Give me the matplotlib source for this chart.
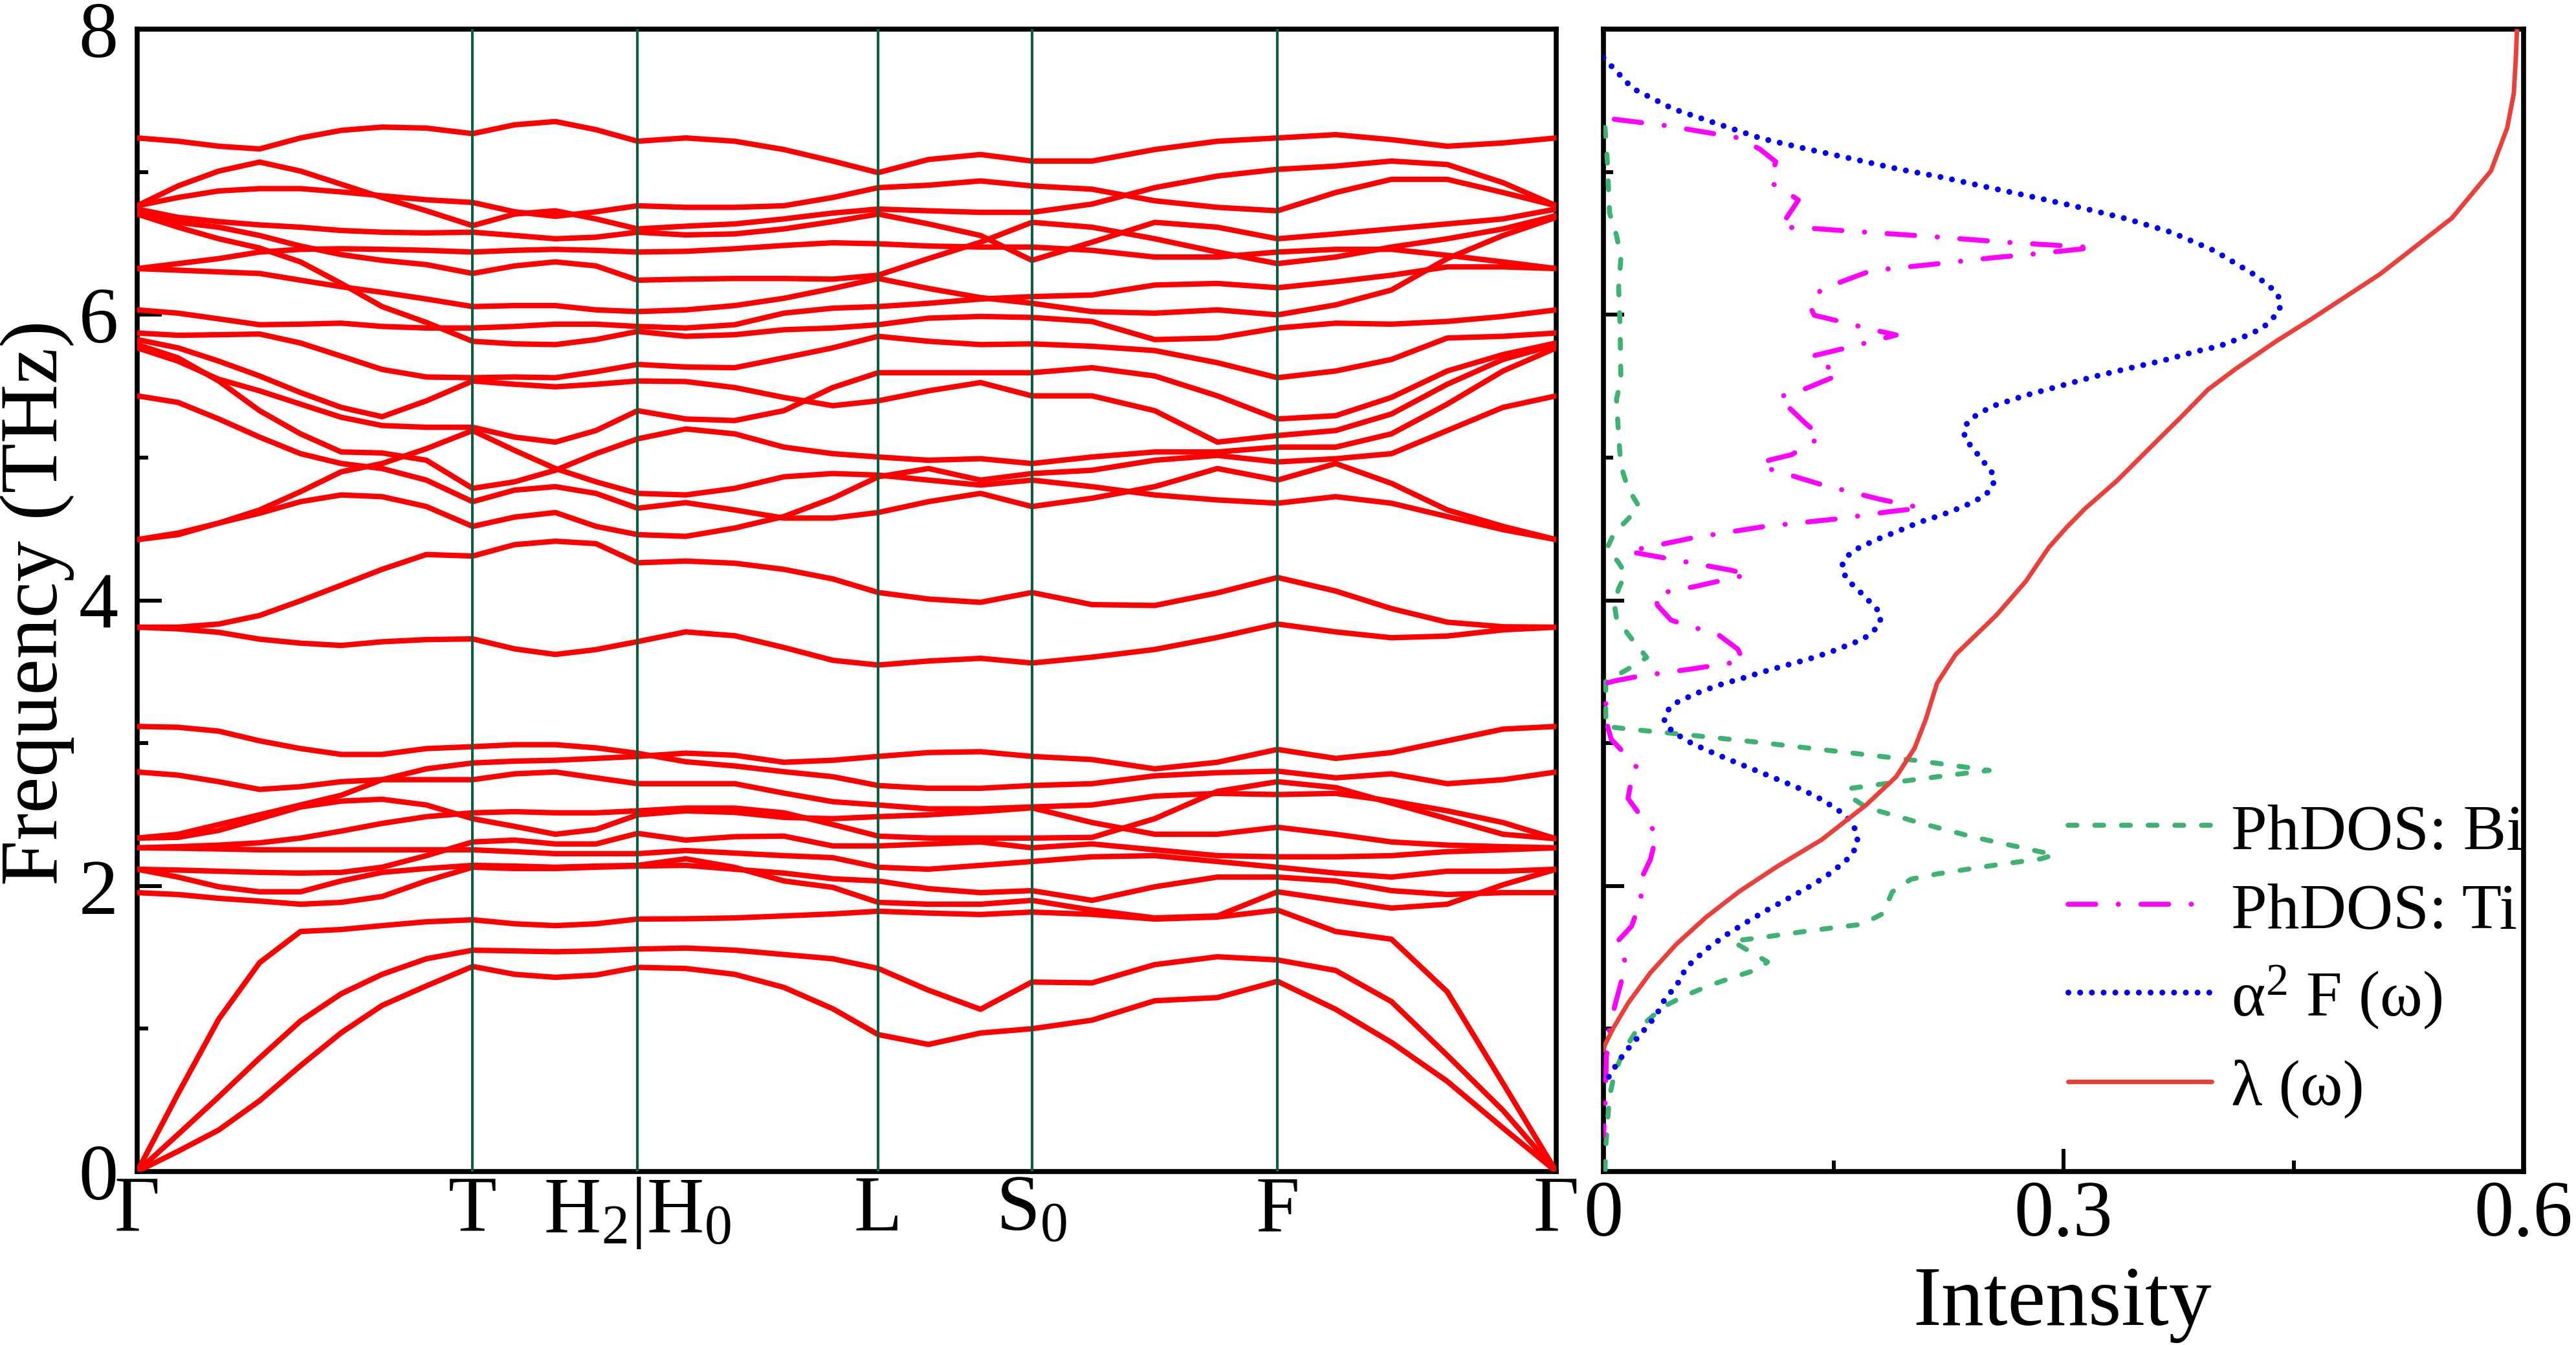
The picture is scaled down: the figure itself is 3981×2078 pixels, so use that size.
import matplotlib
matplotlib.use("Agg")
import matplotlib.pyplot as plt
from matplotlib.ticker import MultipleLocator, FixedLocator

# ---------------- data ----------------
# path coordinate (fraction of the Γ-T-H|H0-L-S0-F-Γ path) at which bands were read
kpath = [0, 0.0288, 0.0575, 0.0863, 0.1151, 0.1438, 0.1726, 0.2038, 0.2364,
         0.2660, 0.2947, 0.3233, 0.3527,
         0.3866, 0.4211, 0.4557, 0.4902, 0.5222, 0.5576, 0.5943, 0.6305,
         0.6729, 0.7171, 0.7612, 0.8036, 0.8446, 0.8839, 0.9232, 0.9625, 1.0]

hs_pos = [0.0, 0.2364, 0.3527, 0.5222, 0.6305, 0.8036, 1.0]
hs_labels = ["Γ", "T", r"H$_2$|H$_0$", "L", r"S$_0$", "F", "Γ"]

# acoustic branches (THz)
ta1 = [0, 0.142, 0.291, 0.496, 0.741, 0.972, 1.163, 1.30, 1.436, 1.381, 1.36, 1.376, 1.43,
       1.422, 1.381, 1.29, 1.14, 0.959, 0.89, 0.97, 1.0,
       1.06, 1.196, 1.218, 1.332, 1.136, 0.904, 0.632, 0.305, 0]
ta2 = [0, 0.26, 0.523, 0.795, 1.054, 1.245, 1.381, 1.49, 1.55, 1.545, 1.539, 1.545, 1.558,
       1.565, 1.55, 1.52, 1.49, 1.422, 1.27, 1.136, 1.327,
       1.321, 1.449, 1.504, 1.482, 1.408, 1.19, 0.814, 0.428, 0]
la = [0, 0.545, 1.068, 1.463, 1.681, 1.695, 1.722, 1.749, 1.763, 1.735, 1.722, 1.735, 1.768,
      1.77, 1.776, 1.79, 1.804, 1.823, 1.81, 1.80, 1.817,
      1.801, 1.768, 1.782, 1.831, 1.681, 1.627, 1.259, 0.618, 0]

# low optical branches (THz)
low1 = [2.335, 2.362, 2.430, 2.498, 2.567, 2.635, 2.744, 2.820, 2.861, 2.874, 2.880, 2.893, 2.907,
        2.93, 2.915, 2.866, 2.88, 2.907, 2.934, 2.94, 2.907,
        2.885, 2.82, 2.866, 2.956, 2.893, 2.934, 3.016, 3.098, 3.117]
low2 = [3.117, 3.111, 3.084, 3.016, 2.962, 2.921, 2.921, 2.962, 2.975, 2.989, 2.989, 2.967, 2.929,
        2.87, 2.84, 2.80, 2.765, 2.703, 2.684, 2.684, 2.703,
        2.716, 2.771, 2.793, 2.804, 2.757, 2.785, 2.716, 2.744, 2.798]
low3 = [2.798, 2.776, 2.730, 2.676, 2.695, 2.730, 2.744, 2.744, 2.744, 2.785, 2.798, 2.757, 2.716,
        2.716, 2.716, 2.65, 2.59, 2.567, 2.54, 2.54, 2.553,
        2.567, 2.629, 2.648, 2.64, 2.648, 2.594, 2.526, 2.444, 2.33]
low4 = [2.267, 2.275, 2.286, 2.302, 2.335, 2.384, 2.438, 2.485, 2.512, 2.520, 2.512, 2.512, 2.526,
        2.545, 2.545, 2.512, 2.43, 2.349, 2.335, 2.335, 2.335,
        2.34, 2.471, 2.662, 2.73, 2.689, 2.58, 2.471, 2.362, 2.33]
low5 = [2.335, 2.340, 2.389, 2.471, 2.553, 2.594, 2.607, 2.567, 2.471, 2.417, 2.362, 2.395, 2.498,
        2.526, 2.515, 2.48, 2.471, 2.485, 2.498, 2.52, 2.547,
        2.444, 2.362, 2.362, 2.411, 2.362, 2.308, 2.286, 2.275, 2.267]
low6 = [2.117, 2.111, 2.103, 2.095, 2.090, 2.095, 2.131, 2.212, 2.308, 2.321, 2.294, 2.294, 2.368,
        2.321, 2.345, 2.349, 2.28, 2.28, 2.294, 2.308, 2.267,
        2.294, 2.253, 2.212, 2.204, 2.204, 2.212, 2.24, 2.253, 2.267]
low7 = [2.267, 2.264, 2.259, 2.253, 2.253, 2.253, 2.253, 2.253, 2.253, 2.240, 2.226, 2.226, 2.226,
        2.248, 2.23, 2.212, 2.198, 2.131, 2.117, 2.144, 2.171,
        2.204, 2.212, 2.171, 2.131, 2.09, 2.062, 2.103, 2.103, 2.117]
low8 = [2.117, 2.062, 1.994, 1.959, 1.959, 2.035, 2.095, 2.122, 2.144, 2.139, 2.131, 2.139, 2.144,
        2.19, 2.13, 2.035, 1.99, 1.885, 1.872, 1.872, 1.899,
        1.831, 1.776, 1.79, 1.959, 1.899, 1.845, 1.872, 2.008, 2.117]
low9 = [1.953, 1.940, 1.913, 1.894, 1.872, 1.885, 1.926, 2.035, 2.131, 2.122, 2.122, 2.131, 2.139,
        2.144, 2.117, 2.09, 2.05, 2.035, 1.981, 1.953, 1.967,
        1.899, 1.994, 2.062, 2.062, 2.035, 1.967, 1.94, 1.953, 1.953]

# middle pair around 4 THz
mid_a = [3.812, 3.812, 3.834, 3.894, 3.997, 4.106, 4.217, 4.321, 4.31, 4.39, 4.414, 4.397, 4.263,
         4.275, 4.26, 4.217, 4.15, 4.055, 4.009, 3.986, 4.055,
         3.97, 3.964, 4.052, 4.16, 4.065, 3.942, 3.847, 3.815, 3.812]
mid_b = [3.812, 3.80, 3.776, 3.728, 3.70, 3.684, 3.71, 3.725, 3.73, 3.66, 3.621, 3.655, 3.711,
         3.779, 3.752, 3.67, 3.58, 3.547, 3.575, 3.594, 3.561,
         3.602, 3.656, 3.74, 3.834, 3.779, 3.738, 3.75, 3.793, 3.812]

# high optical branches (THz)
up01 = [7.238, 7.215, 7.18, 7.161, 7.238, 7.291, 7.314, 7.307, 7.268, 7.33, 7.353, 7.296, 7.215,
        7.238, 7.215, 7.157, 7.076, 6.995, 7.087, 7.122, 7.076,
        7.076, 7.157, 7.215, 7.238, 7.261, 7.226, 7.18, 7.203, 7.238]
up02 = [6.763, 6.821, 6.867, 6.883, 6.883, 6.86, 6.833, 6.805, 6.786, 6.721, 6.689, 6.721, 6.763,
        6.752, 6.752, 6.763, 6.821, 6.89, 6.907, 6.937, 6.902,
        6.879, 6.798, 6.752, 6.728, 6.856, 6.948, 6.948, 6.856, 6.763]
up03 = [6.763, 6.902, 7.006, 7.069, 7.006, 6.914, 6.821, 6.728, 6.624, 6.705, 6.728, 6.671, 6.601,
        6.62, 6.636, 6.671, 6.712, 6.74, 6.728, 6.717, 6.717,
        6.775, 6.89, 6.971, 7.018, 7.041, 7.076, 7.052, 6.925, 6.763]
up04 = [6.74, 6.682, 6.652, 6.629, 6.613, 6.59, 6.578, 6.573, 6.578, 6.555, 6.532, 6.543, 6.578,
        6.559, 6.566, 6.601, 6.652, 6.705, 6.636, 6.555, 6.381,
        6.508, 6.647, 6.613, 6.532, 6.566, 6.601, 6.636, 6.671, 6.74]
up05 = [6.323, 6.358, 6.393, 6.439, 6.458, 6.462, 6.458, 6.451, 6.439, 6.451, 6.458, 6.451, 6.439,
        6.444, 6.462, 6.485, 6.504, 6.497, 6.481, 6.474, 6.474,
        6.451, 6.404, 6.404, 6.439, 6.458, 6.458, 6.416, 6.37, 6.323]
up06 = [6.717, 6.647, 6.613, 6.555, 6.481, 6.421, 6.381, 6.351, 6.289, 6.342, 6.37, 6.342, 6.242,
        6.249, 6.254, 6.254, 6.249, 6.277, 6.393, 6.508, 6.647,
        6.613, 6.532, 6.439, 6.358, 6.404, 6.474, 6.532, 6.601, 6.694]
up07 = [6.323, 6.312, 6.30, 6.289, 6.242, 6.196, 6.157, 6.11, 6.057, 6.064, 6.064, 6.034, 6.022,
        6.034, 6.064, 6.115, 6.184, 6.254, 6.184, 6.12, 6.08,
        6.022, 6.011, 6.034, 5.999, 6.069, 6.173, 6.393, 6.555, 6.682]
up08 = [6.034, 6.011, 5.971, 5.93, 5.934, 5.941, 5.918, 5.907, 5.907, 5.918, 5.934, 5.934, 5.918,
        5.907, 5.93, 6.011, 6.046, 6.057, 6.08, 6.11, 6.127,
        6.138, 6.208, 6.219, 6.189, 6.231, 6.277, 6.335, 6.335, 6.323]
up09 = [6.705, 6.613, 6.532, 6.467, 6.37, 6.219, 6.057, 5.946, 5.814, 5.796, 5.791, 5.826, 5.883,
        5.849, 5.86, 5.895, 5.907, 5.93, 5.976, 5.988, 5.981,
        5.953, 5.826, 5.837, 5.907, 5.941, 5.934, 5.953, 5.988, 6.034]
up10 = [5.872, 5.856, 5.86, 5.865, 5.802, 5.71, 5.617, 5.564, 5.559, 5.564, 5.559, 5.601, 5.652,
        5.634, 5.629, 5.698, 5.768, 5.849, 5.814, 5.791, 5.796,
        5.779, 5.749, 5.664, 5.559, 5.606, 5.687, 5.837, 5.849, 5.872]
up11 = [5.826, 5.768, 5.675, 5.571, 5.455, 5.351, 5.286, 5.397, 5.536, 5.513, 5.495, 5.513, 5.536,
        5.532, 5.49, 5.421, 5.363, 5.397, 5.467, 5.525, 5.432,
        5.432, 5.328, 5.108, 5.154, 5.189, 5.305, 5.513, 5.687, 5.791]
up12 = [5.768, 5.675, 5.548, 5.467, 5.374, 5.282, 5.224, 5.212, 5.212, 5.143, 5.108, 5.189, 5.328,
        5.27, 5.259, 5.328, 5.49, 5.594, 5.594, 5.594, 5.594,
        5.629, 5.571, 5.432, 5.27, 5.293, 5.421, 5.606, 5.721, 5.802]
up13 = [5.791, 5.698, 5.536, 5.328, 5.166, 5.039, 5.032, 4.981, 4.784, 4.83, 4.911, 5.027, 5.131,
        5.2, 5.166, 5.073, 5.027, 5.004, 4.981, 4.992, 4.958,
        5.004, 5.039, 5.039, 5.073, 5.073, 5.166, 5.374, 5.606, 5.768]
up14 = [4.425, 4.46, 4.541, 4.633, 4.761, 4.90, 4.958, 5.062, 5.189, 5.05, 4.923, 4.83, 4.749,
        4.738, 4.784, 4.865, 4.888, 4.877, 4.842, 4.807, 4.842,
        4.796, 4.738, 4.703, 4.68, 4.726, 4.68, 4.587, 4.495, 4.425]
up15 = [5.432, 5.386, 5.27, 5.143, 5.027, 4.958, 4.923, 4.842, 4.691, 4.772, 4.796, 4.749, 4.645,
        4.684, 4.633, 4.576, 4.576, 4.615, 4.691, 4.749, 4.657,
        4.715, 4.796, 4.923, 4.842, 4.958, 4.819, 4.633, 4.518, 4.425]
up16 = [4.425, 4.471, 4.541, 4.61, 4.691, 4.738, 4.726, 4.657, 4.518, 4.583, 4.615, 4.518, 4.46,
        4.448, 4.506, 4.587, 4.715, 4.865, 4.923, 4.842, 4.888,
        4.911, 4.981, 5.015, 4.969, 4.992, 5.027, 5.189, 5.351, 5.432]

# ---- right panel: intensity vs frequency ----
bi_int = [0.001, 0.0025, 0.004, 0.0085, 0.0114, 0.0099, 0.0108, 0.0114, 0.0085, 0.0099, 0.0114,
          0.0159, 0.0233, 0.0144, 0.007, 0.0025, 0.0099, 0.0144, 0.0099, 0.007, 0.0085, 0.0174,
          0.0282, 0.016, 0.0015, 0.0015, 0.0184, 0.0524, 0.1034, 0.1544, 0.2053, 0.2515, 0.232,
          0.1956, 0.1616, 0.159, 0.1714, 0.2078, 0.2417, 0.2939, 0.2854, 0.2515, 0.2175, 0.2005,
          0.1883, 0.1823, 0.1689, 0.135, 0.101, 0.084, 0.107, 0.101, 0.0864, 0.0694, 0.0524,
          0.039, 0.0282, 0.0209, 0.0136, 0.0075, 0.0039, 0.0015, 0.001]
bi_freq = [7.311, 7.077, 6.712, 6.556, 6.40, 6.191, 5.931, 5.54, 5.41, 5.15, 4.941,
           4.785, 4.655, 4.551, 4.473, 4.368, 4.264, 4.186, 4.082, 3.978, 3.874, 3.744,
           3.6, 3.519, 3.431, 3.117, 3.096, 3.061, 3.003, 2.94, 2.877, 2.809, 2.784,
           2.734, 2.684, 2.638, 2.55, 2.437, 2.341, 2.218, 2.19, 2.14, 2.084, 2.047,
           1.958, 1.807, 1.732, 1.687, 1.636, 1.613, 1.468, 1.417, 1.367, 1.304, 1.228,
           1.153, 1.052, 0.977, 0.851, 0.70, 0.523, 0.171, 0.0]

ti_int = [0.007, 0.041, 0.0886, 0.1019, 0.1123, 0.1087, 0.1153, 0.1271, 0.1153, 0.1316, 0.1657,
          0.2132, 0.2606, 0.32, 0.2814, 0.2547, 0.2102, 0.1746, 0.142, 0.1345, 0.1375, 0.158,
          0.1716, 0.1909, 0.163, 0.136, 0.1538, 0.1271, 0.1138, 0.1316, 0.142, 0.1227, 0.1078,
          0.1019, 0.142, 0.1805, 0.2072, 0.1865, 0.1538, 0.1049, 0.0589, 0.0159, 0.0366, 0.0826,
          0.0945, 0.0589, 0.0337, 0.0352, 0.0441, 0.0752, 0.0876, 0.0913, 0.0573, 0.0233, 0.0087,
          0.0015, 0.0015, 0.005, 0.0148, 0.022, 0.0184, 0.016, 0.0245, 0.0354, 0.0342, 0.0306,
          0.0245, 0.0245, 0.0184, 0.0087, 0.0148, 0.0075, 0.0039, 0.0019, 0.001, 0.0]
ti_freq = [7.369, 7.324, 7.238, 7.16, 7.072, 6.926, 6.889, 6.803, 6.613, 6.608, 6.582,
           6.548, 6.509, 6.47, 6.426, 6.40, 6.348, 6.309, 6.178, 6.061, 5.996, 5.944,
           5.905, 5.858, 5.78, 5.71, 5.58, 5.462, 5.423, 5.241, 5.145, 5.02, 4.981,
           4.941, 4.811, 4.707, 4.647, 4.621, 4.572, 4.517, 4.439, 4.343, 4.303, 4.212,
           4.181, 4.095, 4.043, 3.965, 3.861, 3.757, 3.658, 3.575, 3.519, 3.469, 3.439,
           3.419, 3.167, 3.028, 2.915, 2.827, 2.751, 2.613, 2.487, 2.361, 2.336, 2.185,
           2.047, 1.908, 1.719, 1.606, 1.455, 1.165, 1.002, 0.8, 0.423, 0.25]

a2f_int = [0.0, 0.019, 0.0455, 0.0743, 0.1034, 0.133, 0.163, 0.1924, 0.222, 0.2517, 0.2814,
           0.311, 0.3407, 0.3704, 0.3986, 0.4253, 0.4386, 0.4416, 0.4407, 0.4297, 0.4164, 0.4015,
           0.3867, 0.3645, 0.3422, 0.32, 0.2977, 0.2755, 0.2532, 0.2399, 0.2354, 0.2354, 0.2458,
           0.2547, 0.2541, 0.2488, 0.2354, 0.2206, 0.2057, 0.1924, 0.1782, 0.1642, 0.1583, 0.1553,
           0.1583, 0.1701, 0.1805, 0.1805, 0.176, 0.169, 0.1616, 0.148, 0.1333, 0.1187, 0.104,
           0.0896, 0.075, 0.0604, 0.0464, 0.0408, 0.0396, 0.0451, 0.058, 0.0723, 0.0864, 0.1005,
           0.1148, 0.1289, 0.1427, 0.1556, 0.1616, 0.1646, 0.1658, 0.1629, 0.1575, 0.1451, 0.1325,
           0.1189, 0.1056, 0.0922, 0.0791, 0.0665, 0.0541, 0.0471, 0.0408, 0.0342, 0.0238, 0.0136,
           0.0058, 0.0]
a2f_freq = [7.80, 7.585, 7.441, 7.337, 7.233, 7.16, 7.09, 7.02, 6.96, 6.89, 6.822,
            6.751, 6.673, 6.577, 6.447, 6.275, 6.16, 6.095, 6.022, 5.905, 5.84, 5.78,
            5.744, 5.678, 5.624, 5.567, 5.501, 5.436, 5.358, 5.275, 5.215, 5.137, 4.999,
            4.876, 4.803, 4.733, 4.66, 4.598, 4.546, 4.486, 4.426, 4.355, 4.303, 4.238,
            4.152, 4.03, 3.913, 3.843, 3.784, 3.726, 3.696, 3.638, 3.587, 3.544, 3.499,
            3.451, 3.406, 3.348, 3.278, 3.217, 3.152, 3.079, 2.996, 2.928, 2.865, 2.804,
            2.741, 2.678, 2.603, 2.512, 2.449, 2.386, 2.311, 2.235, 2.17, 2.067, 1.984,
            1.903, 1.825, 1.739, 1.651, 1.551, 1.43, 1.291, 1.223, 1.09, 0.956, 0.83,
            0.705, 0.6]

lam_int = [0.0, 0.001, 0.0063, 0.016, 0.0306, 0.0476, 0.067, 0.0888, 0.1131, 0.1422, 0.1714,
           0.1908, 0.2029, 0.2102, 0.2175, 0.2296, 0.2563, 0.2755, 0.2903, 0.3021, 0.314, 0.3348,
           0.3555, 0.3763, 0.3941, 0.412, 0.4386, 0.4617, 0.5066, 0.5533, 0.5787, 0.5893, 0.5936,
           0.5949, 0.5957]
lam_freq = [0.85, 0.889, 1.002, 1.178, 1.392, 1.593, 1.782, 1.963, 2.135, 2.323, 2.568,
            2.764, 2.965, 3.167, 3.419, 3.62, 3.897, 4.134, 4.369, 4.512, 4.642, 4.837,
            5.059, 5.28, 5.475, 5.619, 5.814, 5.97, 6.286, 6.677, 7.007, 7.308, 7.549,
            7.789, 8.0]

dos_labels = ["PhDOS: Bi", "PhDOS: Ti", r"α$^2$ F (ω)", "λ (ω)"]

# ---------------- style ----------------
plt.rcParams["font.family"] = ["Liberation Serif", "DejaVu Serif"]
plt.rcParams["mathtext.fontset"] = "custom"
plt.rcParams["mathtext.rm"] = "Liberation Serif"
plt.rcParams["mathtext.it"] = "Liberation Serif:italic"

BAND_RED = "#ff0000"
VLINE = "#0f5c3f"
GREEN = "#3cb371"
MAGENTA = "#ff00ff"
BLUE = "#0000ff"
LAM_RED = "#ec3f3a"
TICK_FS = 88
SPINE_W = 5.5

# (color, linewidth, dash pattern) per DOS curve
style_bi = (GREEN, 5.5, (0, (1.8, 3.6)))
style_ti = (MAGENTA, 5.5, (0, (5.6, 4.55, 0.05, 4.55)))
style_a2f = (BLUE, 6.5, (0, (0.01, 2.0)))
style_lam = (LAM_RED, 5.0, "-")

fig = plt.figure(figsize=(39.81, 20.78), dpi=100)
axb = fig.add_axes([0.05325, 0.12897, 0.55087, 0.84937])
axd = fig.add_axes([0.62246, 0.12897, 0.35720, 0.84937])

# ---- band structure ----
bands = [ta1, ta2, la, low1, low2, low3, low4, low5, low6, low7, low8, low9,
         mid_a, mid_b, up01, up02, up03, up04, up05, up06, up07, up08, up09,
         up10, up11, up12, up13, up14, up15, up16]
for b in bands:
    axb.plot(kpath, b, color=BAND_RED, lw=6, solid_joinstyle="round",
             solid_capstyle="round", zorder=3)
for x in hs_pos[1:-1]:
    axb.axvline(x, color=VLINE, lw=3.0, zorder=4)

axb.set_xlim(hs_pos[0], hs_pos[-1])
axb.set_ylim(0, 8)
axb.set_xticks(hs_pos)
axb.set_xticklabels(hs_labels)
axb.tick_params(axis="x", length=0, pad=4, labelsize=TICK_FS)
axb.yaxis.set_major_locator(MultipleLocator(2))
axb.yaxis.set_minor_locator(MultipleLocator(1))
axb.tick_params(axis="y", which="major", direction="in", length=27, width=4.3,
                labelsize=TICK_FS, pad=21)
axb.tick_params(axis="y", which="minor", direction="in", length=12, width=4.3)
for s in axb.spines.values():
    s.set_linewidth(SPINE_W)

# ---- DOS panel ----
curves = [(bi_int, bi_freq, style_bi), (ti_int, ti_freq, style_ti),
          (a2f_int, a2f_freq, style_a2f), (lam_int, lam_freq, style_lam)]
for xs, ys, (c, w, ls) in curves:
    axd.plot(xs, ys, color=c, lw=w, linestyle=ls, dash_capstyle="round",
             solid_capstyle="round", zorder=3)

axd.set_xlim(0, 0.6)
axd.set_ylim(0, 8)
axd.xaxis.set_major_locator(FixedLocator([0, 0.3, 0.6]))
axd.xaxis.set_minor_locator(FixedLocator([0.15, 0.45]))
axd.set_xticklabels(["0", "0.3", "0.6"])
axd.yaxis.set_major_locator(MultipleLocator(2))
axd.yaxis.set_minor_locator(MultipleLocator(1))
axd.tick_params(axis="x", which="major", direction="in", length=25, width=4.3,
                labelsize=TICK_FS, pad=10)
axd.tick_params(axis="x", which="minor", direction="in", length=12, width=4.3)
axd.tick_params(axis="y", which="major", direction="in", length=23, width=4.3,
                labelleft=False)
axd.tick_params(axis="y", which="minor", direction="in", length=10.5, width=4.3)
for s in axd.spines.values():
    s.set_linewidth(SPINE_W)

# legend: handle lines + text inside the DOS panel
row_y = [0.303, 0.234, 0.157, 0.079]
for (xs, ys, (c, w, ls)), lab, yy in zip(curves, dos_labels, row_y):
    axd.plot([0.505, 0.661], [yy, yy], transform=axd.transAxes, color=c, lw=w,
             linestyle=ls, dash_capstyle="round", solid_capstyle="round", clip_on=False)
    axd.text(0.682, yy - 0.0205, lab, transform=axd.transAxes, fontsize=72,
             ha="left", va="baseline")

fig.text(88 / 3981, 0.552, "Frequency (THz)", rotation=90, rotation_mode="anchor",
         ha="center", va="baseline", fontsize=91)
fig.text(3187.5 / 3981, 1 - 2047 / 2078, "Intensity", ha="center", va="baseline",
         fontsize=95)

fig.savefig("out.png", dpi=100)
